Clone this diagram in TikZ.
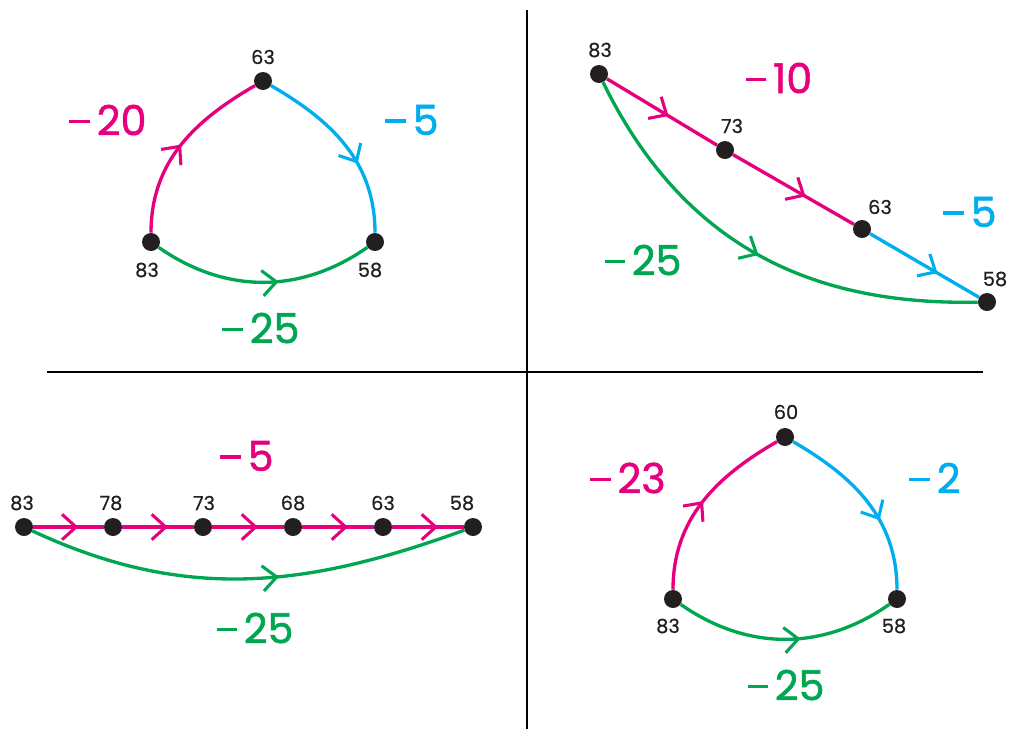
\documentclass[tikz,border=0pt]{standalone}
\usepackage{fontspec}
\setmainfont{Poppins}
\newfontfamily\bigfont{Poppins}[FakeBold=1.3]
\newfontfamily\numfont{Poppins}[FakeBold=0.6]
\usetikzlibrary{arrows.meta,decorations.markings}
\definecolor{mag}{RGB}{230,0,126}
\definecolor{cya}{RGB}{0,174,239}
\definecolor{grn}{RGB}{0,166,81}
\definecolor{dotc}{RGB}{35,31,32}
\newcommand\mn{\rule[0.29em]{0.5em}{0.085em}\hspace{0.16em}}
\tikzset{
 dot/.style={circle,fill=dotc,minimum size=13.5pt,inner sep=0pt},
 num/.style={font=\numfont\fontsize{14.5}{14.5}\selectfont,text=dotc},
 big/.style={font=\bigfont\fontsize{31}{31}\selectfont},
 conn/.style={line width=2.5pt},
 arr/.style={postaction={decorate},decoration={markings,mark=at position #1 with {\arrow{Straight Barb[length=10.5pt,width=19pt,line width=2.3pt]}}}},
 arr/.default=0.5,
 divider/.style={line width=1.6pt,draw=black}
}
\begin{document}
\begin{tikzpicture}[x=0.75pt,y=-0.75pt]
\useasboundingbox (0,0) rectangle (1011,729);
% dividers
\coordinate (vt) at (527,10); \coordinate (vb) at (527,729);
\coordinate (hl) at (47,372); \coordinate (hr) at (983,372);
\draw[divider] (vt) -- (vb);
\draw[divider] (hl) -- (hr);

% ---------- Q1
\node[dot] (a63) at (263,81) {};
\node[dot] (a83) at (151,242) {};
\node[dot] (a58) at (375,242) {};
\draw[conn,mag,arr=0.5] (a83) to[out=90,in=210] (a63);
\draw[conn,cya,arr=0.62] (a63) to[out=-30,in=90] (a58);
\draw[conn,grn,arr=0.57] (a83) to[out=-35,in=215] (a58);
\node[num] (la63) at (263,57) {63};
\node[num] (la83) at (147,270) {83};
\node[num] (la58) at (370,270) {58};
\node[big,text=mag] (wa1) at (108,120) {\mn20};
\node[big,text=cya] (wa2) at (412,120) {\mn5};
\node[big,text=grn] (wa3) at (261,328) {\mn25};

% ---------- Q2
\node[dot] (b83) at (599,74) {};
\node[dot] (b73) at (725,150) {};
\node[dot] (b63) at (862,229) {};
\node[dot] (b58) at (987,302) {};
\draw[conn,grn,arr=0.51] (b83) .. controls (690,260) and (830,305) .. (b58);
\draw[conn,mag,arr=0.56] (b83) -- (b73);
\draw[conn,mag,arr=0.6] (b73) -- (b63);
\draw[conn,cya,arr=0.62] (b63) -- (b58);
\node[num] (lb83) at (600,50) {83};
\node[num] (lb73) at (732,126) {73};
\node[num] (lb63) at (880,207) {63};
\node[num] (lb58) at (995,279) {58};
\node[big,text=mag] (wb1) at (779,78) {\mn10};
\node[big,text=cya] (wb2) at (970,212) {\mn5};
\node[big,text=grn] (wb3) at (643,260) {\mn25};

% ---------- Q3
\node[dot] (c83) at (24,527) {};
\node[dot] (c78) at (113,527) {};
\node[dot] (c73) at (203,527) {};
\node[dot] (c68) at (293,527) {};
\node[dot] (c63) at (383,527) {};
\node[dot] (c58) at (473,527) {};
\draw[conn,grn,arr=0.57] (c83) to[out=-25,in=200] (c58);
\draw[conn,mag,arr=0.64] (c83) -- (c78);
\draw[conn,mag,arr=0.64] (c78) -- (c73);
\draw[conn,mag,arr=0.64] (c73) -- (c68);
\draw[conn,mag,arr=0.64] (c68) -- (c63);
\draw[conn,mag,arr=0.64] (c63) -- (c58);
\node[num] (lc83) at (22,503) {83};
\node[num] (lc78) at (111,503) {78};
\node[num] (lc73) at (204,503) {73};
\node[num] (lc68) at (293,503) {68};
\node[num] (lc63) at (383,503) {63};
\node[num] (lc58) at (462,503) {58};
\node[big,text=mag] (wc1) at (247,456) {\mn5};
\node[big,text=grn] (wc2) at (255,628) {\mn25};

% ---------- Q4
\node[dot] (d60) at (785,437) {};
\node[dot] (d83) at (673,599) {};
\node[dot] (d58) at (897,599) {};
\draw[conn,mag,arr=0.5] (d83) to[out=90,in=210] (d60);
\draw[conn,cya,arr=0.62] (d60) to[out=-30,in=90] (d58);
\draw[conn,grn,arr=0.57] (d83) to[out=-35,in=215] (d58);
\node[num] (ld60) at (786,412) {60};
\node[num] (ld83) at (668,626) {83};
\node[num] (ld58) at (894,626) {58};
\node[big,text=mag] (wd1) at (628,478) {\mn23};
\node[big,text=cya] (wd2) at (935,478) {\mn2};
\node[big,text=grn] (wd3) at (786,685) {\mn25};
\end{tikzpicture}
\end{document}
